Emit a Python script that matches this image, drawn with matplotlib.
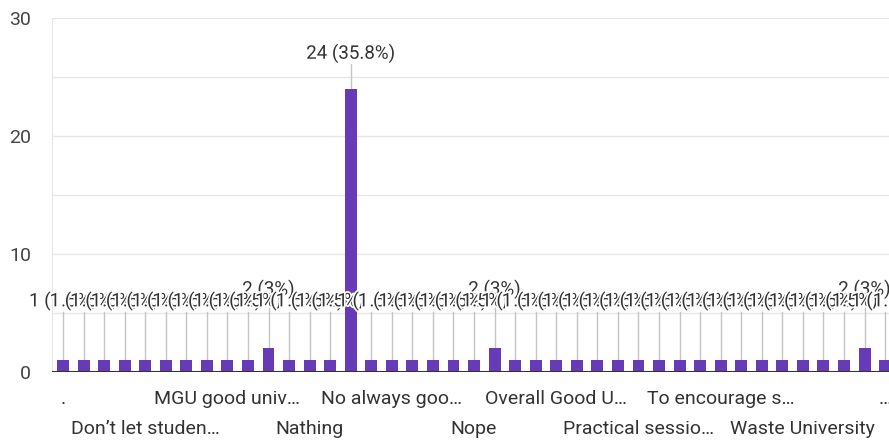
import matplotlib.pyplot as plt
import matplotlib.patheffects as pe
import numpy as np

# contagem de respostas por categoria (ordem alfabetica, como no Google Forms)
valores = [1, 1, 1, 1, 1, 1, 1, 1, 1, 1, 2, 1, 1, 1, 24, 1, 1, 1, 1, 1,
           1, 2, 1, 1, 1, 1, 1, 1, 1, 1, 1, 1, 1, 1, 1, 1, 1, 1, 1, 2, 1]
total_respostas = 67

# rotulos visiveis no eixo x (um a cada 4 barras)
rotulos_x = ['.', "Don\u2019t let studen\u2026", 'MGU good univ\u2026', 'Nathing',
             'No always goo\u2026', 'Nope', 'Overall Good U\u2026', 'Practical sessio\u2026',
             'To encourage s\u2026', 'Waste University', '\u2026']
passo_rotulo = 4

yticks = [0, 10, 20, 30]

plt.rcParams['font.family'] = ['Roboto', 'DejaVu Sans']

fig = plt.figure(figsize=(8.89, 4.45), dpi=100)
ax = fig.add_axes([0.0585, 0.1645, 0.9415, 0.795])

x = np.arange(len(valores))
roxo = '#673ab7'
ax.bar(x, valores, width=0.58, color=roxo, zorder=3)

ax.set_xlim(-0.535, 40.19)
ax.set_ylim(0, 30)

# grade
for g in range(0, 31, 5):
    ax.axhline(g, color='#e6e6e6', lw=1, zorder=0)
ax.axhline(0, color='#333333', lw=1.5, zorder=4)
for s in ['top', 'right', 'bottom']:
    ax.spines[s].set_visible(False)
ax.spines['left'].set_color('#e6e6e6')

ax.set_yticks(yticks)
ax.tick_params(axis='y', length=0, pad=15, labelsize=14, labelcolor='#444444')

# rotulos do eixo x em duas linhas alternadas
ax.set_xticks([])
for i, txt in enumerate(rotulos_x):
    pos = i * passo_rotulo
    linha = 0 if i % 2 == 0 else 1
    ax.annotate(txt, xy=(pos, 0), xycoords=('data', 'axes fraction'),
                xytext=(0, -27 - 30 * linha), textcoords='offset pixels',
                ha='center', va='center', fontsize=14, color='#333333',
                annotation_clip=False)

# rotulos de valor: primeiro os de valor 2, depois os de valor 1 por cima
def texto_valor(v):
    pct = v / total_respostas * 100
    s = f'{pct:.1f}'
    if s.endswith('.0'):
        s = s[:-2]
    return f'{v} ({s}%)'

ordem = sorted(range(len(valores)), key=lambda i: (valores[i] == 1, i))
for i in ordem:
    v = valores[i]
    lab_y = v + 5 if v < 5 else v + 3
    ax.plot([i, i], [v, lab_y - 0.9], color='#c4c4c4', lw=1, zorder=2)
    ax.text(i, lab_y, texto_valor(v), ha='center', va='center', fontsize=13.5,
            color='#333333', zorder=5,
            path_effects=[pe.withStroke(linewidth=2.5, foreground='white')])

fig.savefig('out.png', dpi=100)
